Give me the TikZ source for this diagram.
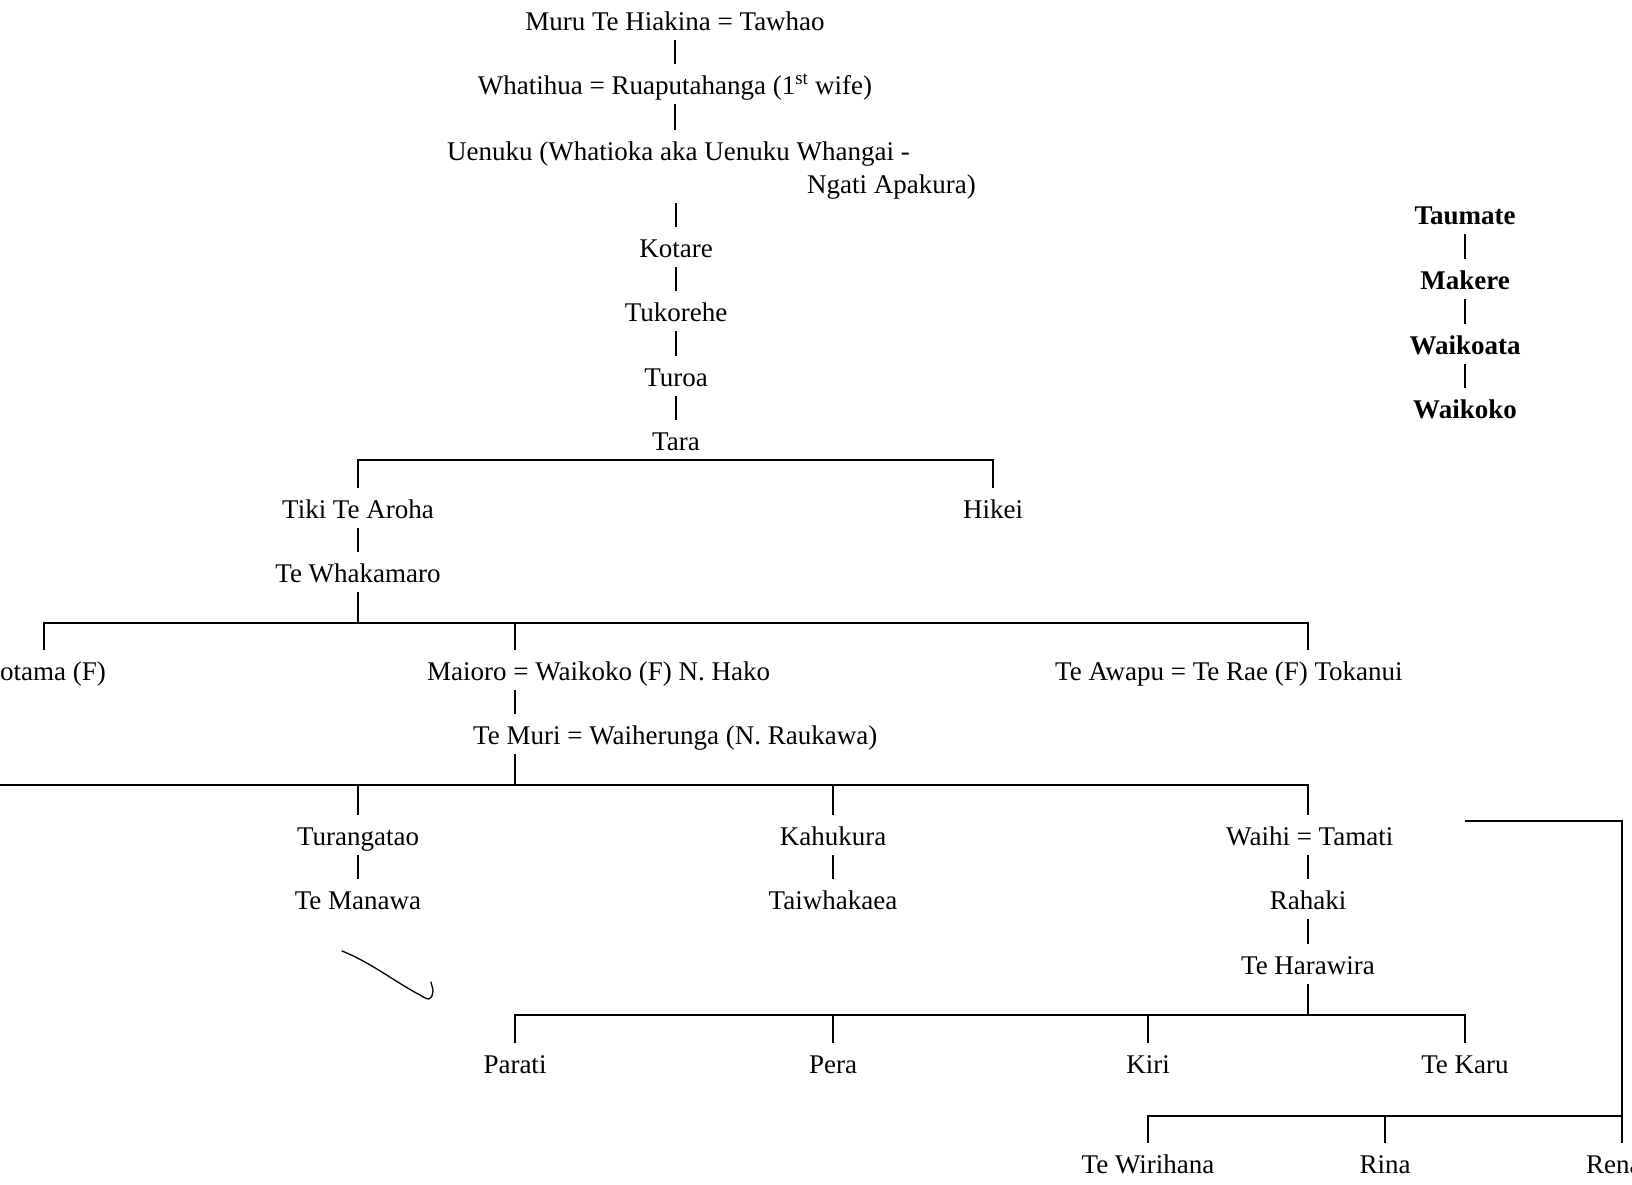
\documentclass[tikz,border=0pt]{standalone}
\usepackage{fontspec}
\setmainfont{Liberation Serif}
\usepackage{tikz}

\begin{document}
\begin{tikzpicture}[x=1pt, y=-1pt,
    person/.style={anchor=base, inner xsep=2pt, inner ysep=4pt,
        text height=26pt, text depth=6pt, font=\fontsize{27}{32}\selectfont},
    chief/.style={person, font=\fontsize{27}{32}\selectfont\bfseries},
    line/.style={line width=2pt}]
        \useasboundingbox (0,0) rectangle (1632,1184);

        % main line
        \node[person] at (675, 30) (muru) {Muru Te Hiakina = Tawhao};
        \node[person] at (675, 94) (whatihua) {Whatihua = Ruaputahanga (1\textsuperscript{st} wife)};
        \node[person, anchor=base west] at (445, 160) (uenukuA) {Uenuku (Whatioka aka Uenuku Whangai -};
        \node[person, anchor=base east] at (978, 193) (uenukuB) {Ngati Apakura)};
        \node[person] at (676, 257) (kotare) {Kotare};
        \node[person] at (676, 321) (tukorehe) {Tukorehe};
        \node[person] at (676, 386) (turoa) {Turoa};
        \node[person] at (676, 450) (tara) {Tara};

        \draw[line] (muru) -- (whatihua);
        \draw[line] (whatihua) -- (whatihua |- uenukuA.north);
        \draw[line] (kotare |- uenukuB.south) -- (kotare);
        \draw[line] (kotare) -- (tukorehe);
        \draw[line] (tukorehe) -- (turoa);
        \draw[line] (turoa) -- (tara);

        % children of Tara
        \node[person] at (358, 518) (tiki) {Tiki Te Aroha};
        \node[person] at (993, 518) (hikei) {Hikei};
        \node[person] at (358, 582) (whakamaro) {Te Whakamaro};

        \draw[line] (tiki.north) -- (tiki.north |- tara.south) -- (hikei.north |- tara.south) -- (hikei.north);
        \draw[line] (tiki) -- (whakamaro);

        % children of Te Whakamaro
        \node[person, anchor=base east] at (108, 680) (notama) {notama (F)};
        \node[person, anchor=base west] at (425, 680) (maioro) {Maioro = Waikoko (F) N. Hako};
        \node[person, anchor=base west] at (1053, 680) (teawapu) {Te Awapu = Te Rae (F) Tokanui};
        \node[person, anchor=base west] at (471, 744) (temuri) {Te Muri = Waiherunga (N. Raukawa)};

        \coordinate (fam2) at (358, 623);
        \coordinate (drop2a) at (44, 623);
        \coordinate (drop2b) at (515, 623);
        \coordinate (drop2c) at (1308, 623);
        \draw[line] (whakamaro) -- (fam2);
        \draw[line] (drop2a |- notama.north) -- (drop2a) -- (drop2c) -- (drop2c |- teawapu.north);
        \draw[line] (drop2b) -- (drop2b |- maioro.north);
        \draw[line] (drop2b |- maioro.south) -- (drop2b |- temuri.north);

        % children of Te Muri
        \node[person] at (358, 845) (turangatao) {Turangatao};
        \node[person] at (833, 845) (kahukura) {Kahukura};
        \node[person, anchor=base west] at (1224, 845) (waihi) {Waihi = Tamati};
        \node[person] at (358, 909) (temanawa) {Te Manawa};
        \node[person] at (833, 909) (taiwhakaea) {Taiwhakaea};
        \node[person] at (1308, 909) (rahaki) {Rahaki};
        \node[person] at (1308, 974) (teharawira) {Te Harawira};

        \coordinate (fam3) at (515, 785);
        \coordinate (fam3left) at (-20, 785);
        \coordinate (drop3c) at (1308, 785);
        \draw[line] (drop2b |- temuri.south) -- (fam3);
        \draw[line] (fam3left) -- (drop3c) -- (drop3c |- waihi.north);
        \draw[line] (turangatao.north |- fam3) -- (turangatao);
        \draw[line] (kahukura.north |- fam3) -- (kahukura);
        \draw[line] (turangatao) -- (temanawa);
        \draw[line] (kahukura) -- (taiwhakaea);
        \draw[line] (rahaki |- waihi.south) -- (rahaki);
        \draw[line] (rahaki) -- (teharawira);

        % children of Te Harawira
        \node[person] at (515, 1073) (parati) {Parati};
        \node[person] at (833, 1073) (pera) {Pera};
        \node[person] at (1148, 1073) (kiri) {Kiri};
        \node[person] at (1465, 1073) (tekaru) {Te Karu};

        \coordinate (fam4) at (1308, 1015);
        \draw[line] (teharawira) -- (fam4);
        \draw[line] (parati.north) -- (parati.north |- fam4) -- (tekaru.north |- fam4) -- (tekaru.north);
        \draw[line] (pera.north |- fam4) -- (pera);
        \draw[line] (kiri.north |- fam4) -- (kiri);

        % children of Tamati
        \node[person] at (1148, 1173) (tewirihana) {Te Wirihana};
        \node[person] at (1385, 1173) (rina) {Rina};
        \node[person, anchor=base west] at (1584, 1173) (rena) {Rena};

        \coordinate (tamati) at (1465, 821);
        \coordinate (drop5) at (1622, 821);
        \coordinate (fam5) at (1622, 1116);
        \draw[line] (tamati) -- (drop5) -- (drop5 |- rena.north);
        \draw[line] (tewirihana.north) -- (tewirihana.north |- fam5) -- (fam5);
        \draw[line] (rina.north |- fam5) -- (rina);

        % Taumate line
        \node[chief] at (1465, 224) (taumate) {Taumate};
        \node[chief] at (1465, 289) (makere) {Makere};
        \node[chief] at (1465, 354) (waikoata) {Waikoata};
        \node[chief] at (1465, 418) (waikoko) {Waikoko};

        \draw[line] (taumate) -- (makere);
        \draw[line] (makere) -- (waikoata);
        \draw[line] (waikoata) -- (waikoko);

        % pen mark
        \draw[line width=1.3pt, line cap=round] (342, 951) .. controls (372, 963) and (395, 982) .. (420, 995)
            .. controls (428, 1000) and (432, 1002) .. (433, 990) -- (431, 982);
    \end{tikzpicture}
\end{document}
